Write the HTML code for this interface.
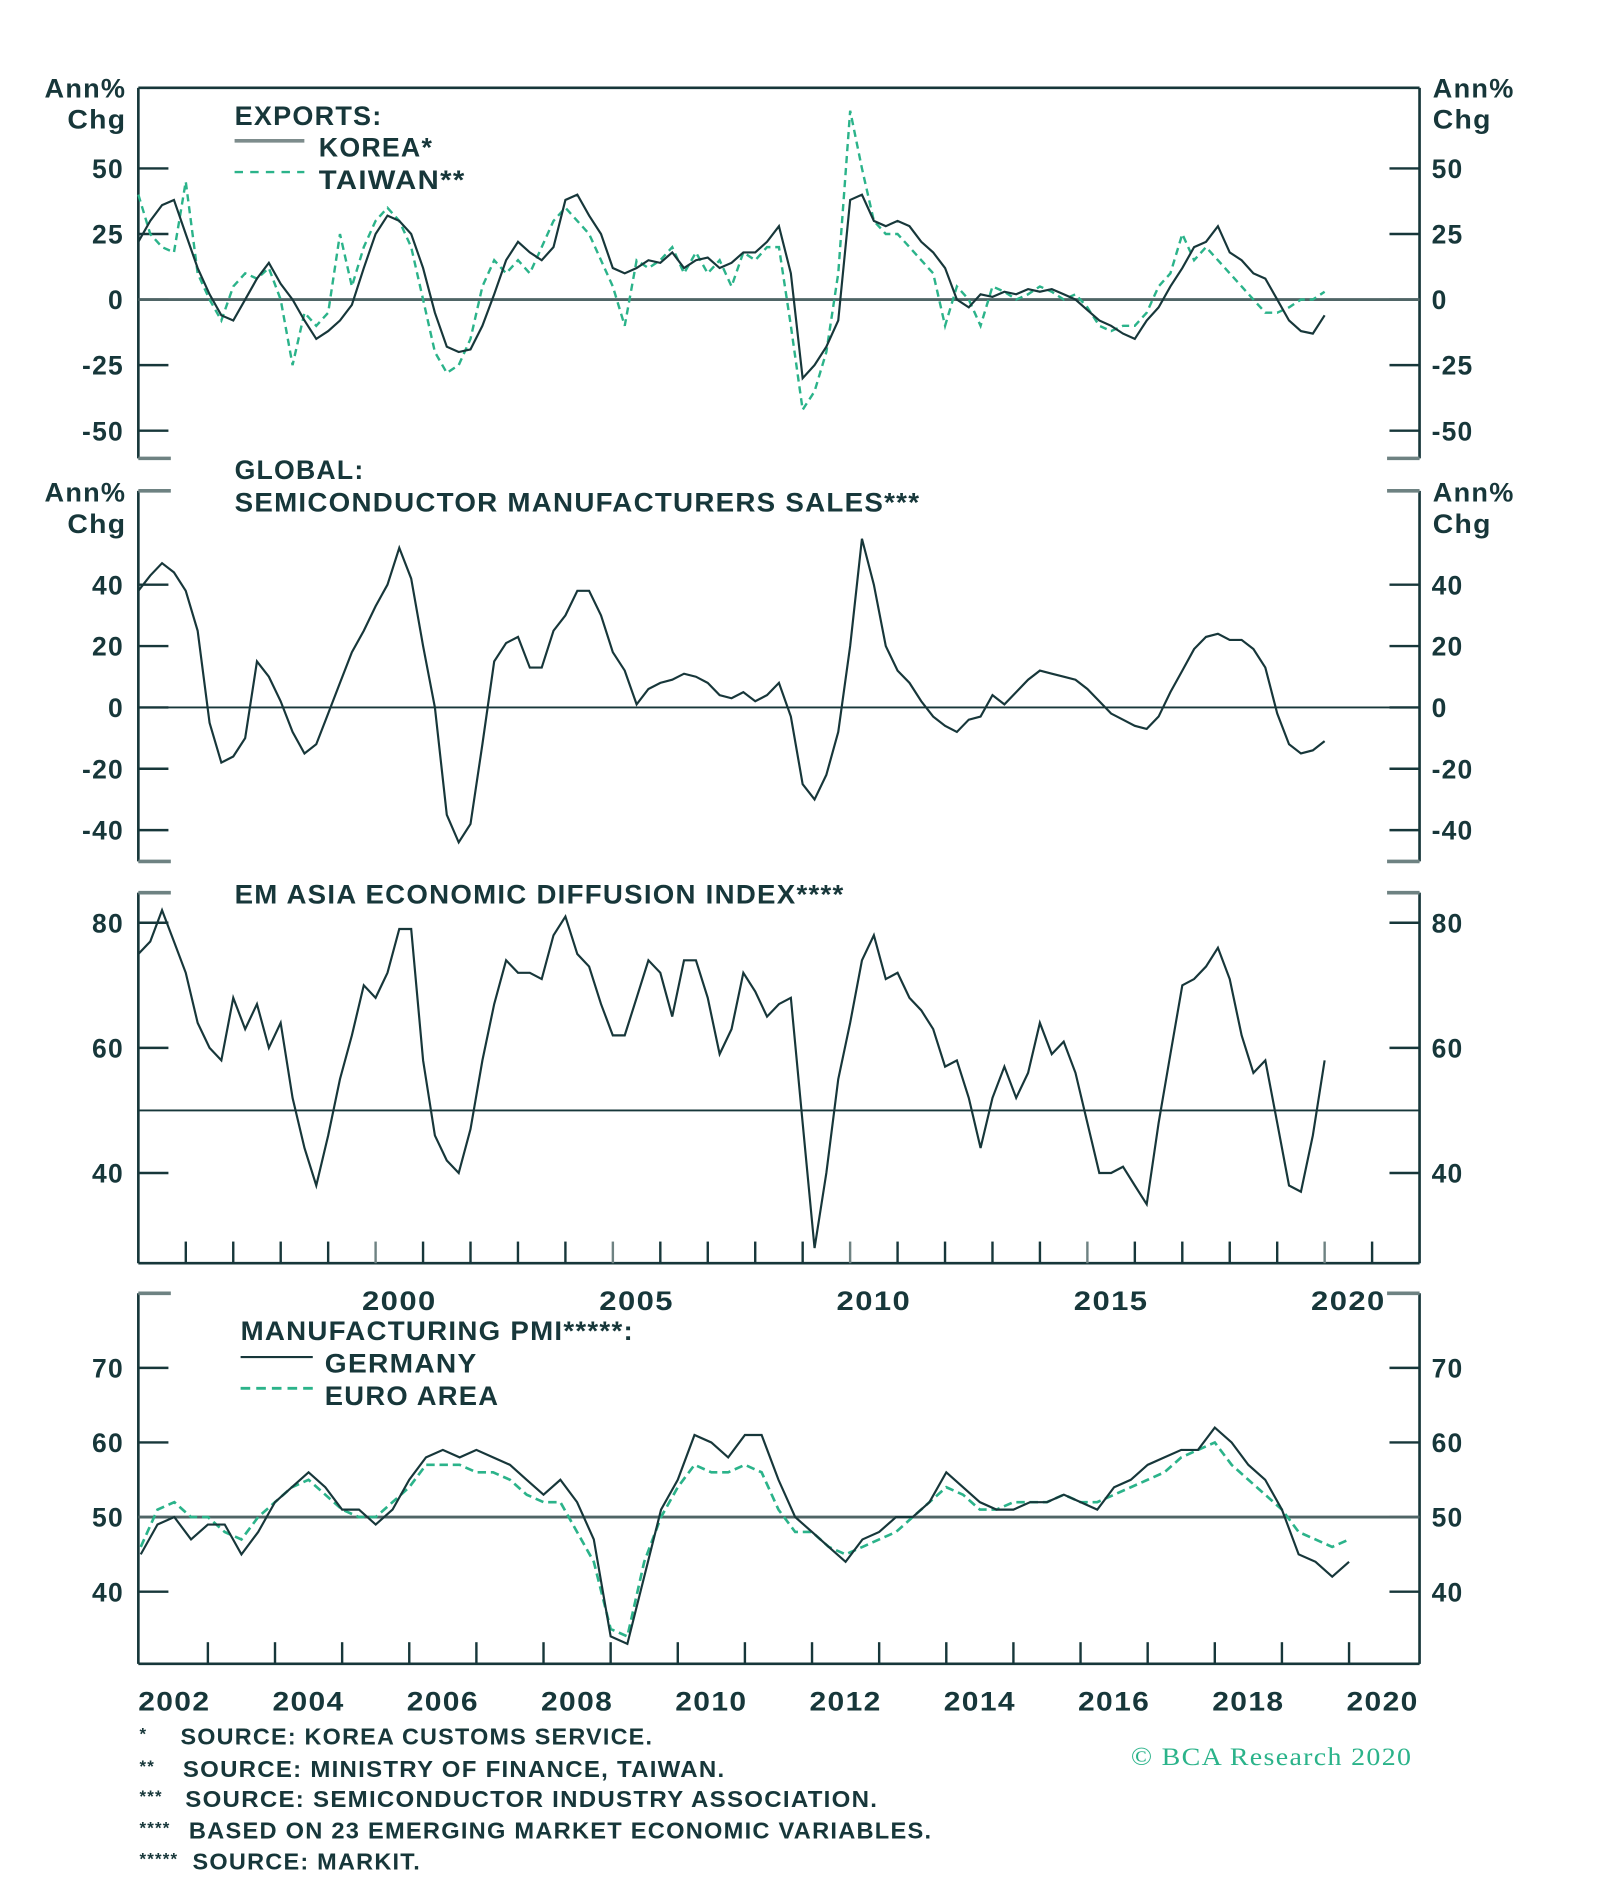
<!DOCTYPE html>
<html><head><meta charset="utf-8"><style>
html,body{margin:0;padding:0;background:#fff;}
svg{display:block;}
text{font-family:"Liberation Sans",sans-serif;font-weight:bold;fill:#17373a;}
text.serif{font-family:"Liberation Serif",serif;font-weight:normal;fill:#2bb38a;}
</style></head><body>
<svg id="chart" width="1600" height="1884" viewBox="0 0 1330 1566" preserveAspectRatio="none" xmlns="http://www.w3.org/2000/svg"></svg>
<script>
// ---- data (quarterly, starting 1995.0 / 2002.0) ----
const exportsStart = 1995.0;
const koreaExports = [22,30,36,38, 25,12,2,-6, -8,0,8,14, 6,0,-8,-15, -12,-8,-2,12, 25,32,30,25, 12,-5,-18,-20, -19,-10,2,15, 22,18,15,20, 38,40,32,25, 12,10,12,15, 14,18,12,15, 16,12,14,18, 18,22,28,10, -30,-25,-18,-8, 38,40,30,28, 30,28,22,18, 12,0,-3,2, 1,3,2,4, 3,4,2,0, -4,-8,-10,-13, -15,-8,-3,5, 12,20,22,28, 18,15,10,8, 0,-8,-12,-13, -6];
const taiwanExports = [40,25,20,18, 45,10,0,-8, 5,10,8,12, 0,-25,-5,-10, -5,25,5,20, 30,35,30,20, 0,-20,-28,-25, -15,5,15,10, 15,10,20,30, 35,30,25,15, 5,-10,15,12, 15,20,10,18, 10,15,5,18, 15,20,20,-10, -42,-35,-20,10, 72,50,30,25, 25,20,15,10, -10,5,0,-10, 5,3,0,2, 5,3,0,2, -3,-10,-12,-10, -10,-5,5,10, 25,15,20,15, 10,5,0,-5, -5,-3,0,0, 3];
const semiStart = 1995.0;
const semiSales = [38,43,47,44, 38,25,-5,-18, -16,-10,15,10, 2,-8,-15,-12, -2,8,18,25, 33,40,52,42, 20,0,-35,-44, -38,-12,15,21, 23,13,13,25, 30,38,38,30, 18,12,1,6, 8,9,11,10, 8,4,3,5, 2,4,8,-3, -25,-30,-22,-8, 20,55,40,20, 12,8,2,-3, -6,-8,-4,-3, 4,1,5,9, 12,11,10,9, 6,2,-2,-4, -6,-7,-3,5, 12,19,23,24, 22,22,19,13, -2,-12,-15,-14, -11];
const emStart = 1995.0;
const emDiffusion = [75,77,82,77, 72,64,60,58, 68,63,67,60, 64,52,44,38, 46,55,62,70, 68,72,79,79, 58,46,42,40, 47,58,67,74, 72,72,71,78, 81,75,73,67, 62,62,68,74, 72,65,74,74, 68,59,63,72, 69,65,67,68, 48,28,40,55, 64,74,78,71, 72,68,66,63, 57,58,52,44, 52,57,52,56, 64,59,61,56, 48,40,40,41, 38,35,48,59, 70,71,73,76, 71,62,56,58, 48,38,37,46, 58];
const pmiStart = 2002.0;
const germanyPMI = [45,49,50,47, 49,49,45,48, 52,54,56,54, 51,51,49,51, 55,58,59,58, 59,58,57,55, 53,55,52,47, 34,33,42,51, 55,61,60,58, 61,61,55,50, 48,46,44,47, 48,50,50,52, 56,54,52,51, 51,52,52,53, 52,51,54,55, 57,58,59,59, 62,60,57,55, 51,45,44,42, 44];
const euroPMI = [46,51,52,50, 50,48,47,50, 52,54,55,53, 51,50,50,52, 54,57,57,57, 56,56,55,53, 52,52,48,44, 35,34,44,50, 54,57,56,56, 57,56,51,48, 48,46,45,46, 47,48,50,52, 54,53,51,51, 52,52,52,53, 52,52,53,54, 55,56,58,59, 60,57,55,53, 51,48,47,46, 47];
const yearLabelsTop = [2000,2005,2010,2015,2020];
const yearLabelsBottom = [2002,2004,2006,2008,2010,2012,2014,2016,2018,2020];
const ticks1 = [50,25,0,-25,-50];
const ticks2 = [40,20,0,-20,-40];
const ticks3 = [80,60,40];
const ticks4 = [70,60,50,40];

const NS="http://www.w3.org/2000/svg";
const svg=document.getElementById('chart');
const DARK="#17373a", GREEN="#2bb38a", GREY="#6e8282";
function mk(tag,attrs,parent){const e=document.createElementNS(NS,tag);for(const k in attrs)e.setAttribute(k,attrs[k]);(parent||svg).appendChild(e);return e;}
function txt(x,y,s,size,anchor,len){const a={x:x,y:y,'font-size':size,'text-anchor':anchor||'start','letter-spacing':'1'};if(len){a.textLength=len;a.lengthAdjust='spacingAndGlyphs';}const t=mk('text',a);t.textContent=s;return t;}

const L=115,R=1180;
const xTop=t=>L+(t-1995)*(R-L)/27;
const xBot=t=>117+(t-2002)*55.8;
function yLin(v0,y0,v1,y1){return v=>y0+(v-v0)*(y1-y0)/(v1-v0);}
const y1=yLin(0,249,50,140), y2=yLin(0,588,40,486), y3=yLin(80,767,60,871), y4=yLin(50,1261,60,1199);

function seriesPath(vals,start,xf,yf){let d='';vals.forEach((v,i)=>{d+=(i?'L':'M')+xf(start+i*0.25).toFixed(1)+','+yf(v).toFixed(1);});return d;}

function frame(top,bot,topFull,botFull,name){
  const g=mk('g',{});
  
  
  mk('line',{x1:L,y1:top,x2:L,y2:bot,stroke:DARK,'stroke-width':2.2},g);
  mk('line',{x1:R,y1:top,x2:R,y2:bot,stroke:DARK,'stroke-width':2.2},g);
  if(topFull)mk('line',{x1:L,y1:top,x2:R,y2:top,stroke:DARK,'stroke-width':2.2},g);
  else{mk('line',{x1:L,y1:top,x2:L+27,y2:top,stroke:GREY,'stroke-width':3},g);mk('line',{x1:R-27,y1:top,x2:R,y2:top,stroke:GREY,'stroke-width':3},g);}
  if(botFull)mk('line',{x1:L,y1:bot,x2:R,y2:bot,stroke:DARK,'stroke-width':2.2},g);
  else{mk('line',{x1:L,y1:bot,x2:L+27,y2:bot,stroke:GREY,'stroke-width':3},g);mk('line',{x1:R-27,y1:bot,x2:R,y2:bot,stroke:GREY,'stroke-width':3},g);}
}
function yTicks(ticks,yf,name){
  ticks.forEach(v=>{
    const y=yf(v);
    mk('line',{x1:L,y1:y,x2:L+25,y2:y,stroke:DARK,'stroke-width':2});
    mk('line',{x1:R-25,y1:y,x2:R,y2:y,stroke:DARK,'stroke-width':2});
    const a=txt(103,y+8,String(v),22,'end');
    
    
    const b=txt(1190,y+8,String(v),22,'start');
    
    
  });
}
function unitLabels(yA,yC,name){
  let a=txt(37,yA,'Ann%',22,'start',68);
  let c=txt(56,yC,'Chg',22,'start',49);
  a=txt(1191,yA,'Ann%',22,'start',68);
  c=txt(1191,yC,'Chg',22,'start',49);
}
function zeroLine(y,name){const l=mk('line',{x1:L,y1:y,x2:R,y2:y,stroke:'#4f6566','stroke-width':2.4});}

// Panel 1: exports
frame(73,381,true,false,'exports');
yTicks(ticks1,y1,'exports');
unitLabels(81,107,'exports');
zeroLine(y1(0),'exports-zero-line');
let p=mk('path',{d:seriesPath(taiwanExports,exportsStart,xTop,y1),fill:'none',stroke:GREEN,'stroke-width':2,'stroke-dasharray':'6,4'});

p=mk('path',{d:seriesPath(koreaExports,exportsStart,xTop,y1),fill:'none',stroke:DARK,'stroke-width':1.8});

let t=txt(195,104,'EXPORTS:',22,'start',123);
p=mk('line',{x1:195,y1:117,x2:253,y2:117,stroke:'#7d8c8c','stroke-width':3});
t=txt(265,130,'KOREA*',22,'start',95);
p=mk('line',{x1:195,y1:143,x2:253,y2:143,stroke:GREEN,'stroke-width':2,'stroke-dasharray':'7,6'});
t=txt(265,157,'TAIWAN**',22,'start',122);

// Panel 2: semis
frame(408,716,false,false,'semis');
yTicks(ticks2,y2,'semis');
unitLabels(417,443,'semis');
mk('line',{x1:L,y1:y2(0),x2:R,y2:y2(0),stroke:DARK,'stroke-width':1.6});
p=mk('path',{d:seriesPath(semiSales,semiStart,xTop,y2),fill:'none',stroke:DARK,'stroke-width':1.8});

t=txt(195,398,'GLOBAL:',22,'start',108);
t=txt(195,425,'SEMICONDUCTOR MANUFACTURERS SALES***',22,'start',570);

// Panel 3: EM diffusion
frame(742,1050,false,true,'em-diffusion');
yTicks(ticks3,y3,'em-diffusion');
mk('line',{x1:L,y1:y3(50),x2:R,y2:y3(50),stroke:DARK,'stroke-width':1.6});
for(let yr=1996;yr<=2021;yr++){const x=xTop(yr);mk('line',{x1:x,y1:1050,x2:x,y2:1032,stroke:(yr%5==0?GREY:DARK),'stroke-width':2});}
p=mk('path',{d:seriesPath(emDiffusion,emStart,xTop,y3),fill:'none',stroke:DARK,'stroke-width':1.8});

t=txt(195,751,'EM ASIA ECONOMIC DIFFUSION INDEX****',22,'start',507);
yearLabelsTop.forEach(yr=>{const e=txt(xTop(yr+0.5),1089,String(yr),22,'middle',62);});

// Panel 4: PMI
frame(1075,1383,false,true,'pmi');
yTicks(ticks4,y4,'pmi');
zeroLine(y4(50),'pmi-50-line');
for(let yr=2003;yr<=2020;yr++){const x=xBot(yr);mk('line',{x1:x,y1:1383,x2:x,y2:1365,stroke:DARK,'stroke-width':2});}
p=mk('path',{d:seriesPath(euroPMI,pmiStart,xBot,y4),fill:'none',stroke:GREEN,'stroke-width':2.2,'stroke-dasharray':'7,4'});

p=mk('path',{d:seriesPath(germanyPMI,pmiStart,xBot,y4),fill:'none',stroke:DARK,'stroke-width':1.8});

t=txt(200,1114,'MANUFACTURING PMI*****:',22,'start',327);
p=mk('line',{x1:200,y1:1128,x2:260,y2:1128,stroke:DARK,'stroke-width':1.8});
t=txt(270,1141,'GERMANY',22,'start',127);
p=mk('line',{x1:200,y1:1154,x2:260,y2:1154,stroke:GREEN,'stroke-width':2.4,'stroke-dasharray':'8,5'});
t=txt(270,1168,'EURO AREA',22,'start',145);
yearLabelsBottom.forEach(yr=>{const e=txt(xBot(yr+0.5),1422,String(yr),22,'middle',60);});

// footnotes
const notes=[['*','SOURCE: KOREA CUSTOMS SERVICE.',1450,150,393],['**','SOURCE: MINISTRY OF FINANCE, TAIWAN.',1477,152,451],['***','SOURCE: SEMICONDUCTOR INDUSTRY ASSOCIATION.',1502,154,576],['****','BASED ON 23 EMERGING MARKET ECONOMIC VARIABLES.',1528,157,618],['*****','SOURCE: MARKIT.',1554,160,190]];
notes.forEach(n=>{const s=txt(116,n[2]-4,n[0],14);const e=txt(n[3],n[2],n[1],19,'start',n[4]);});
t=txt(940,1467,'© BCA Research 2020',21,'start',234);
t.setAttribute('class','serif');

</script>
</body></html>
